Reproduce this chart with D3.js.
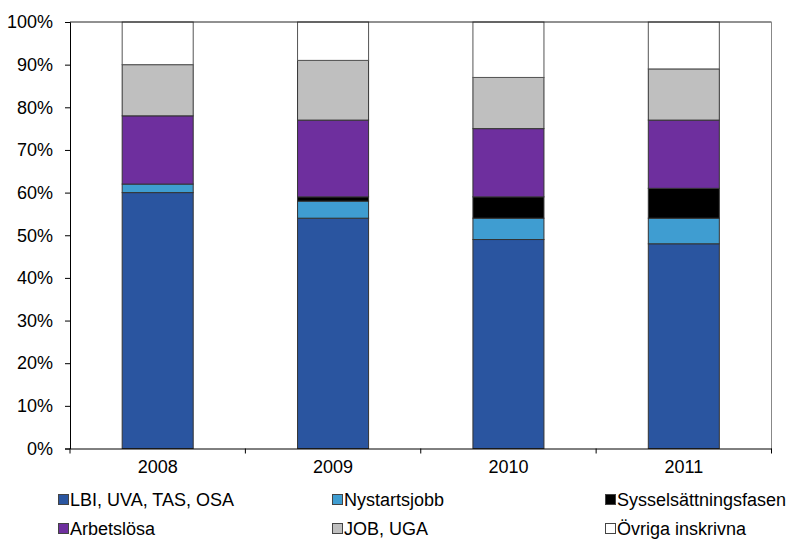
<!DOCTYPE html>
<html><head><meta charset="utf-8">
<script src="https://cdn.jsdelivr.net/npm/d3@7"></script>
<style>body{margin:0;background:#fff}svg{display:block;font-family:"Liberation Sans",Arial,sans-serif}</style>
</head><body><svg id="c" width="791" height="539"></svg>
<script>
const years = ["2008","2009","2010","2011"];
const seriesNames = ["LBI, UVA, TAS, OSA","Nystartsjobb","Sysselsättningsfasen","Arbetslösa","JOB, UGA","Övriga inskrivna"];
const lbi = [60,54,49,48];
const nystart = [2,4,5,6];
const syssel = [0,1,5,7];
const arbetslosa = [16,18,16,16];
const jobUga = [12,14,12,12];
const ovriga = [10,9,13,11];
const yTicks = [0,10,20,30,40,50,60,70,80,90,100];
const colors = ["#2A55A0","#3F9DD1","#000000","#6E2F9E","#BFBFBF","#FFFFFF"];

const seriesVals = [lbi,nystart,syssel,arbetslosa,jobUga,ovriga];
const rows = years.map((y,i)=>{const o={year:y}; seriesNames.forEach((s,k)=>o[s]=seriesVals[k][i]); return o;});
const stacked = d3.stack().keys(seriesNames)(rows);

const L=70,R=771.5,T=22,B=448.5;
const FS=18;
const svg=d3.select("#c");
const x=d3.scaleBand().domain(years).range([L,R]).padding(0);
const y=d3.scaleLinear().domain([0,100]).range([B,T]);
const bw=x.bandwidth()*0.405;

// bars
stacked.forEach((s,k)=>{
  svg.append("g").selectAll("rect").data(s.filter(d=>d[1]-d[0]>0)).join("rect")
    .attr("x",d=>x(d.data.year)+x.bandwidth()/2-bw/2)
    .attr("y",d=>y(d[1]))
    .attr("width",bw)
    .attr("height",d=>y(d[0])-y(d[1]))
    .attr("fill",colors[k])
    .attr("stroke",k===5?"#555":"#333")
    .attr("stroke-width",1);
});

// frame top/right
svg.append("line").attr("x1",L).attr("x2",R).attr("y1",T).attr("y2",T).attr("stroke","#222");
svg.append("line").attr("x1",R).attr("x2",R).attr("y1",T).attr("y2",B).attr("stroke","#888");

// y axis
const ya=svg.append("g").attr("transform",`translate(${L},0)`)
  .call(d3.axisLeft(y).tickValues(yTicks).tickFormat(d=>d+"%").tickSize(5).tickPadding(12));
ya.select(".domain").attr("stroke","#000");
ya.selectAll(".tick line").attr("stroke","#000");
ya.selectAll("text").attr("font-size",FS).attr("fill","#000").attr("font-family","Liberation Sans, Arial, sans-serif");

// x axis
const xa=svg.append("g").attr("transform",`translate(0,${B})`)
  .call(d3.axisBottom(x).tickSize(0).tickPadding(12));
xa.select(".domain").attr("stroke","#000");
xa.selectAll("text").attr("font-size",FS).attr("fill","#000").attr("font-family","Liberation Sans, Arial, sans-serif");
const bounds=years.map(d=>x(d)).concat([R]);
svg.append("g").selectAll("line").data(bounds).join("line")
  .attr("x1",d=>d).attr("x2",d=>d).attr("y1",B).attr("y2",B+5).attr("stroke","#000");

// legend
const legPos=[[58,500],[332,500],[605,500],[58,529],[332,529],[605,529]];
const lg=svg.append("g").selectAll("g").data(seriesNames).join("g")
  .attr("transform",(d,i)=>`translate(${legPos[i][0]},${legPos[i][1]})`);
lg.append("rect").attr("x",0.5).attr("y",-5.5).attr("width",10).attr("height",10)
  .attr("fill",(d,i)=>colors[i]).attr("stroke","#444").attr("stroke-width",1);
lg.append("text").attr("x",12).attr("y",0).attr("dy","0.35em").attr("font-size",FS).attr("fill","#000").text(d=>d);
</script></body></html>
